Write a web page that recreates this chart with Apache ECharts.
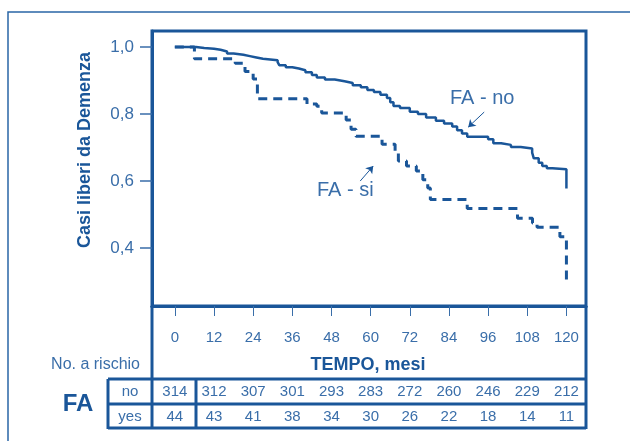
<!DOCTYPE html>
<html lang="it">
<head>
    <meta charset="UTF-8">
    <title>Casi liberi da Demenza</title>
    <script src="https://cdn.jsdelivr.net/npm/echarts@6/dist/echarts.min.js"></script>
    <style>
        html, body { margin: 0; padding: 0; background: #fff; }
        #main { width: 630px; height: 441px; }
    </style>
</head>
<body>
<div id="main"></div>
<script>
    // mesi (asse x) e valori
    var months = [0, 12, 24, 36, 48, 60, 72, 84, 96, 108, 120];
    var yTicks = [0.4, 0.6, 0.8, 1.0];
    var atRiskNo = [314, 312, 307, 301, 293, 283, 272, 260, 246, 229, 212];
    var atRiskYes = [44, 43, 41, 38, 34, 30, 26, 22, 18, 14, 11];

    // FA - no (linea continua)
    var faNoTime = [0, 6.5, 9, 12, 14, 16, 18, 21, 23, 25, 27, 31.5, 32, 34, 36, 38, 40, 42, 43.5, 46,
        49, 52, 54.5, 57, 59, 61, 63, 65, 66, 67, 69, 72, 74.5, 77, 80, 82.5, 85, 86.5, 88, 89.6,
        96, 97.6, 100, 103, 106, 109.5, 110, 111.5, 112.6, 114, 115.7, 120];
    var faNoSurv = [1.0, 0.997, 0.995, 0.992, 0.987, 0.981, 0.977, 0.973, 0.969, 0.965, 0.961, 0.955, 0.946, 0.940, 0.936, 0.931, 0.925, 0.917, 0.909, 0.903,
        0.898, 0.893, 0.886, 0.880, 0.872, 0.866, 0.858, 0.848, 0.835, 0.824, 0.818, 0.807, 0.800, 0.790, 0.780, 0.772, 0.763, 0.752, 0.742, 0.732,
        0.725, 0.713, 0.708, 0.702, 0.697, 0.685, 0.668, 0.655, 0.645, 0.638, 0.635, 0.578];

    // FA - si (linea tratteggiata)
    var faSiTime = [0, 6, 18.5, 21.5, 24, 25.3, 40.5, 43.5, 45, 52.5, 54, 55.5, 63.5, 67.5, 68.5, 71, 74, 76, 77.5, 78.3,
        89.6, 105, 109.6, 111, 118, 120];
    var faSiSurv = [1.0, 0.965, 0.952, 0.927, 0.905, 0.846, 0.830, 0.823, 0.803, 0.782, 0.755, 0.734, 0.710, 0.685, 0.660, 0.645, 0.630, 0.604, 0.579, 0.545,
        0.518, 0.489, 0.475, 0.462, 0.434, 0.305];

    var dark = '#1a5699';
    var light = '#3a6ea9';
    var font = '"Liberation Sans", Arial, sans-serif';

    function pairs(xs, ys) {
        return xs.map(function (x, i) { return [x, ys[i]]; });
    }

    var chart = echarts.init(document.getElementById('main'), null, {renderer: 'canvas'});

    var option = {
        animation: false,
        grid: {
            left: 152, right: 44, top: 31, bottom: 135,
            show: true, borderColor: dark, borderWidth: 3
        },
        xAxis: {
            type: 'value', min: -7, max: 126,
            axisLine: {show: true, onZero: false, lineStyle: {color: dark, width: 3}},
            axisTick: {show: true, customValues: months, length: 10, lineStyle: {color: light, width: 1}},
            axisLabel: {customValues: months, margin: 24, fontSize: 15, color: light, fontFamily: font},
            splitLine: {show: false}
        },
        yAxis: {
            type: 'value', min: 0.227, max: 1.048,
            axisLine: {show: true, onZero: false, lineStyle: {color: dark, width: 3}},
            axisTick: {show: true, customValues: yTicks, length: 12, lineStyle: {color: light, width: 1.5}},
            axisLabel: {
                customValues: yTicks, margin: 18, fontSize: 17, color: light, fontFamily: font,
                formatter: function (v) { return v.toFixed(1).replace('.', ','); }
            },
            splitLine: {show: false}
        },
        series: [
            {
                name: 'FA - no', type: 'line', step: 'end', symbol: 'none',
                data: pairs(faNoTime, faNoSurv),
                lineStyle: {color: dark, width: 2.5},
                markLine: {
                    silent: true, symbol: ['none', 'arrow'], symbolSize: 7,
                    label: {show: false},
                    lineStyle: {color: dark, width: 1, type: 'solid'},
                    data: [[{coord: [94.8, 0.806]}, {coord: [89.9, 0.761]}]]
                }
            },
            {
                name: 'FA - si', type: 'line', step: 'end', symbol: 'none',
                data: pairs(faSiTime, faSiSurv),
                lineStyle: {color: dark, width: 3, type: [9, 6]},
                markLine: {
                    silent: true, symbol: ['none', 'arrow'], symbolSize: 7,
                    label: {show: false},
                    lineStyle: {color: dark, width: 1, type: 'solid'},
                    data: [[{coord: [56.8, 0.600]}, {coord: [60.8, 0.645]}]]
                }
            }
        ]
    };
    chart.setOption(option);

    // tabella "No. a rischio" sotto l'asse
    var yNo = 392, yYes = 417;
    var lw = 3;
    var g = [];
    function hline(x1, x2, y) {
        g.push({type: 'line', shape: {x1: x1, y1: y, x2: x2, y2: y}, style: {stroke: dark, lineWidth: lw}, silent: true});
    }
    function vline(x, y1, y2) {
        g.push({type: 'line', shape: {x1: x, y1: y1, x2: x, y2: y2}, style: {stroke: dark, lineWidth: lw}, silent: true});
    }
    function txt(s, x, y, size, color, bold, align) {
        g.push({
            type: 'text', silent: true,
            style: {
                text: s, x: x, y: y, fill: color,
                font: (bold ? 'bold ' : '') + size + 'px ' + font,
                align: align || 'center', verticalAlign: 'middle'
            }
        });
    }

    // cornice esterna
    g.push({type: 'rect', shape: {x: 8, y: 12, width: 700, height: 500}, style: {fill: 'none', stroke: '#2a66a6', lineWidth: 1.5}, silent: true});

    vline(152, 306, 429);
    vline(586, 306, 429);
    vline(108, 379, 429);
    vline(196, 379, 429);
    hline(108, 586, 379);
    hline(108, 586, 404);
    hline(108, 586, 428);

    months.forEach(function (m, i) {
        var px = chart.convertToPixel({xAxisIndex: 0}, m);
        txt(String(atRiskNo[i]), px, yNo, 15, light, false);
        txt(String(atRiskYes[i]), px, yYes, 15, light, false);
    });

    txt('no', 130, yNo, 15, light, false);
    txt('yes', 130, yYes, 15, light, false);
    txt('FA', 78, 404, 24, dark, true);
    txt('No. a rischio', 140, 365, 16, light, false, 'right');
    txt('TEMPO, mesi', 368, 365, 18, dark, true);

    // titolo asse y
    g.push({
        type: 'text', silent: true, rotation: Math.PI / 2, x: 85, y: 150,
        style: {
            text: 'Casi liberi da Demenza', x: 0, y: 0, fill: dark,
            font: 'bold 18px ' + font, align: 'center', verticalAlign: 'middle'
        }
    });

    // etichette delle curve
    txt('FA - no', 450, 98, 20, light, false, 'left');
    txt('FA - si', 317, 190, 20, light, false, 'left');

    chart.setOption({graphic: g});
</script>
</body>
</html>
